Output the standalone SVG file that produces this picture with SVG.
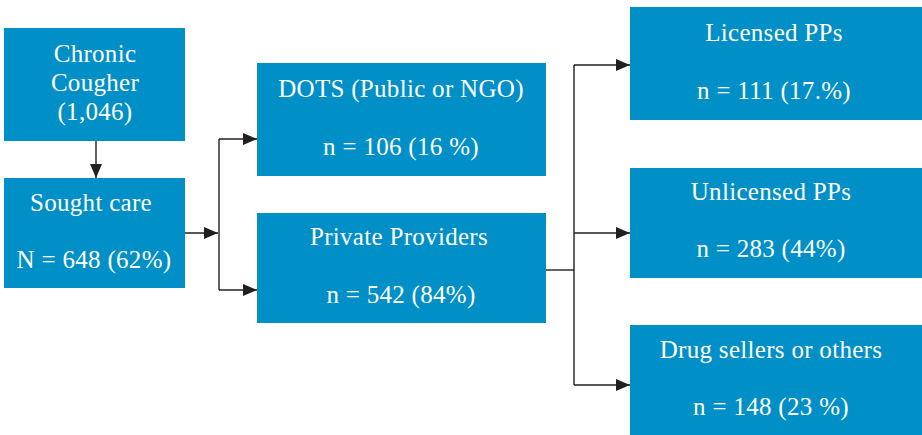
<svg xmlns="http://www.w3.org/2000/svg" width="922" height="435" viewBox="0 0 922 435">
<defs>
<marker id="ah" viewBox="0 0 14 12" refX="14" refY="6" markerWidth="14" markerHeight="12" markerUnits="userSpaceOnUse" orient="auto">
<path d="M0,0 L14,6 L0,12 Z" fill="#231f20"/>
</marker>
<style>
.box{fill:#008fc7}
.t{font-family:"Liberation Serif","DejaVu Serif",serif;font-size:25px;letter-spacing:0.3px;fill:#ffffff;text-anchor:middle}
.c{fill:none;stroke:#231f20;stroke-width:1.4}
</style>
</defs>
<rect width="922" height="435" fill="#ffffff"/>
<g id="chronic"><rect class="box" x="4" y="28" width="181" height="113"/>
<text class="t" x="95" y="62">Chronic</text><text class="t" x="95" y="91">Cougher</text><text class="t" x="95" y="120">(1,046)</text></g>
<g id="sought"><rect class="box" x="4" y="178" width="181" height="110"/>
<text class="t" x="91" y="211">Sought care</text><text class="t" x="94" y="268">N = 648 (62%)</text></g>
<g id="dots"><rect class="box" x="257" y="63" width="289" height="113"/>
<text class="t" x="401" y="97">DOTS (Public or NGO)</text><text class="t" x="401" y="155">n = 106 (16 %)</text></g>
<g id="private"><rect class="box" x="257" y="213" width="289" height="110"/>
<text class="t" x="399" y="245">Private Providers</text><text class="t" x="401" y="303">n = 542 (84%)</text></g>
<g id="licensed"><rect class="box" x="630" y="7" width="292" height="113"/>
<text class="t" x="774" y="41">Licensed PPs</text><text class="t" x="774" y="99">n = 111 (17.%)</text></g>
<g id="unlicensed"><rect class="box" x="630" y="168" width="292" height="110"/>
<text class="t" x="771" y="200">Unlicensed PPs</text><text class="t" x="771" y="257">n = 283 (44%)</text></g>
<g id="drug"><rect class="box" x="630" y="325" width="292" height="110"/>
<text class="t" x="771" y="358">Drug sellers or others</text><text class="t" x="771" y="415">n = 148 (23 %)</text></g>
<g id="connectors">
<path class="c" d="M96,141 V178" marker-end="url(#ah)"/>
<path class="c" d="M185,233 H218" marker-end="url(#ah)"/>
<path class="c" d="M219,139 V290"/>
<path class="c" d="M219,139 H257" marker-end="url(#ah)"/>
<path class="c" d="M219,290 H257" marker-end="url(#ah)"/>
<path class="c" d="M546,270 H574"/>
<path class="c" d="M574,65 V385"/>
<path class="c" d="M574,65 H630" marker-end="url(#ah)"/>
<path class="c" d="M574,233 H630" marker-end="url(#ah)"/>
<path class="c" d="M574,385 H630" marker-end="url(#ah)"/>
</g>
</svg>
